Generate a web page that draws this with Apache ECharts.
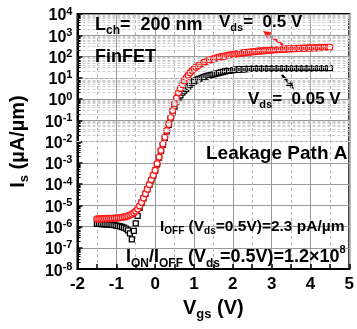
<!DOCTYPE html>
<html>
<head>
<meta charset="utf-8">
<script src="https://cdn.jsdelivr.net/npm/echarts@6/dist/echarts.min.js"></script>
<style>
  html, body { margin: 0; padding: 0; background: #fff; }
  #chart { width: 357px; height: 329px; }
</style>
</head>
<body>
<div id="chart"></div>
<script>
// Gate voltage sweep (V)
const vgs = [
  -1.5, -1.45, -1.4, -1.35, -1.3, -1.25, -1.2, -1.15, -1.1, -1.05,
  -1.0, -0.95, -0.9, -0.85, -0.8, -0.75, -0.7, -0.65, -0.6, -0.55,
  -0.5, -0.45, -0.4, -0.35, -0.3, -0.25, -0.2, -0.15, -0.1, -0.05,
  0, 0.05, 0.1, 0.15, 0.2, 0.25, 0.3, 0.35, 0.4, 0.45,
  0.5, 0.55, 0.6, 0.65, 0.7, 0.75, 0.8, 0.85, 0.9, 0.95,
  1.0, 1.05, 1.1, 1.15, 1.2, 1.25, 1.3, 1.35, 1.4, 1.45,
  1.5, 1.55, 1.6, 1.65, 1.7, 1.75, 1.8, 1.85, 1.9, 1.95,
  2.0, 2.05, 2.1, 2.15, 2.2, 2.25, 2.3, 2.35, 2.4, 2.45,
  2.5, 2.55, 2.6, 2.65, 2.7, 2.75, 2.8, 2.85, 2.9, 2.95,
  3.0, 3.05, 3.1, 3.15, 3.2, 3.25, 3.3, 3.35, 3.4, 3.45,
  3.5, 3.55, 3.6, 3.65, 3.7, 3.75, 3.8, 3.85, 3.9, 3.95,
  4.0, 4.05, 4.1, 4.15, 4.2, 4.25, 4.3, 4.35, 4.4, 4.45,
  4.5
];

// Source current (µA/µm) at Vds = 0.5 V
const isVds05 = [
  2.3e-6, 2.3e-6, 2.34e-6, 2.34e-6, 2.35e-6, 2.4e-6, 2.4e-6, 2.45e-6, 2.45e-6, 2.5e-6,
  2.51e-6, 2.57e-6, 2.63e-6, 2.69e-6, 2.82e-6, 2.95e-6, 3.16e-6, 3.47e-6, 3.8e-6, 4.37e-6,
  5.25e-6, 6.76e-6, 9.33e-6, 1.38e-5, 2.19e-5, 3.55e-5, 5.75e-5, 9.33e-5, 1.58e-4, 2.63e-4,
  4.47e-4, 9.12e-4, 1.86e-3, 3.8e-3, 7.76e-3, 1.58e-2, 3.31e-2, 6.76e-2, 0.138, 0.288,
  0.603, 1.12, 2.0, 3.16, 4.79, 7.08, 10.0, 13.2, 17.4, 21.9,
  26.3, 31.6, 36.3, 41.7, 46.8, 52.5, 57.5, 63.1, 67.6, 72.4,
  77.6, 83.2, 87.1, 93.3, 97.7, 102, 107, 112, 117, 120,
  126, 129, 135, 138, 141, 148, 151, 155, 158, 162,
  166, 170, 174, 178, 182, 186, 189, 192, 195, 200,
  203, 206, 209, 212, 215, 218, 221, 224, 226, 229,
  231, 234, 236, 238, 240, 243, 245, 247, 249, 251,
  253, 255, 257, 259, 261, 263, 265, 267, 269, 271,
  275
];

// Source current (µA/µm) at Vds = 0.05 V
const isVds005 = [
  1.35e-6, 1.35e-6, 1.32e-6, 1.32e-6, 1.29e-6, 1.29e-6, 1.26e-6, 1.25e-6, 1.2e-6, 1.17e-6,
  1.12e-6, 1.07e-6, 1.02e-6, 9.55e-7, 8.91e-7, 7.94e-7, 6.61e-7, 4.79e-7, 2.51e-7, 6.31e-7,
  1.41e-6, 3.16e-6, 7.59e-6, 1.32e-5, 2.14e-5, 3.47e-5, 5.62e-5, 9.12e-5, 1.51e-4, 2.51e-4,
  4.27e-4, 8.51e-4, 1.74e-3, 3.55e-3, 7.24e-3, 1.48e-2, 3.02e-2, 6.17e-2, 0.12, 0.234,
  0.437, 0.776, 1.12, 1.48, 2.0, 2.51, 3.02, 3.72, 4.79, 5.75,
  6.76, 7.59, 8.32, 9.12, 10.0, 10.7, 11.5, 12.3, 12.9, 13.8,
  14.5, 15.1, 16.2, 17.0, 17.8, 19.1, 20.0, 20.9, 21.4, 22.4,
  22.9, 23.4, 24.0, 24.5, 25.1, 25.2, 25.7, 25.8, 26.2, 26.3,
  26.4, 26.6, 26.7, 26.8, 26.9, 27.0, 27.0, 27.1, 27.2, 27.2,
  27.3, 27.3, 27.4, 27.4, 27.5, 27.5, 27.6, 27.6, 27.7, 27.7,
  27.8, 27.8, 27.8, 27.9, 27.9, 28.0, 28.0, 28.0, 28.1, 28.1,
  28.1, 28.2, 28.2, 28.2, 28.3, 28.3, 28.3, 28.4, 28.4, 28.4,
  28.5
];

// Axis ranges and tick exponents
const xTicks = [-2, -1, 0, 1, 2, 3, 4, 5];
const yExponents = [-8, -7, -6, -5, -4, -3, -2, -1, 0, 1, 2, 3, 4];
const logMinorSteps = [2, 3, 4, 5, 6, 7, 8, 9];

const FONT = '"Liberation Sans", Arial, sans-serif';
const RED = '#ff1a1a';
const X_MIN = xTicks[0];
const X_MAX = xTicks[xTicks.length - 1];

const pairs = (xs, ys) => xs.map((x, i) => [x, ys[i]]);

// Minor log positions (2..9 × each decade)
const minorVals = [];
yExponents.slice(0, -1).forEach(e => {
  logMinorSteps.forEach(m => minorVals.push(m * Math.pow(10, e)));
});
const minorGrid = minorVals.map(v => ({ yAxis: v }));
// Short inward minor ticks on the left axis
const minorTicks = minorVals.map(v => [{ coord: [X_MIN, v] }, { coord: [X_MIN + 0.08, v] }]);

// Simple arrow: shaft plus triangular head at (x2, y2)
function arrow(x1, y1, x2, y2, color) {
  const dx = x2 - x1, dy = y2 - y1, len = Math.hypot(dx, dy);
  const ux = dx / len, uy = dy / len, hl = 8, hw = 4;
  const bx = x2 - ux * hl, by = y2 - uy * hl;
  return {
    type: 'group',
    children: [
      { type: 'line', shape: { x1: x1, y1: y1, x2: bx, y2: by },
        style: { stroke: color, lineWidth: 2.5 } },
      { type: 'polygon',
        shape: { points: [[x2, y2], [bx - uy * hw, by + ux * hw], [bx + uy * hw, by - ux * hw]] },
        style: { fill: color } }
    ]
  };
}

const bold = (size, color, extra) => Object.assign({
  fontFamily: FONT, fontWeight: 'bold', fontSize: size, color: color
}, extra || {});

function label(x, y, text, rich) {
  return { type: 'text', x: x, y: y, z: 20, style: { text: text, rich: rich } };
}

const chart = echarts.init(document.getElementById('chart'), null, { renderer: 'canvas' });

const option = {
  animation: false,
  backgroundColor: '#fff',
  textStyle: { fontFamily: FONT, fontWeight: 'bold', color: '#000' },
  grid: {
    left: 77, right: 3, top: 14, bottom: 56,
    show: true, borderColor: '#000', borderWidth: 2, backgroundColor: 'transparent'
  },
  xAxis: {
    type: 'value', min: X_MIN, max: X_MAX, interval: 1,
    axisLine: { onZero: false, lineStyle: { color: '#000', width: 2 } },
    axisTick: { inside: true, length: 5, lineStyle: { color: '#000', width: 1.5 } },
    minorTick: { show: true, splitNumber: 2, length: 5, lineStyle: { color: '#000', width: 1.5 } },
    splitLine: { show: true, lineStyle: { color: '#9a9a9a', width: 1 } },
    minorSplitLine: { show: true, lineStyle: { color: '#b5b5b5', width: 1, type: [3, 3] } },
    axisLabel: {
      margin: 7,
      fontFamily: FONT, fontWeight: 700, fontSize: 17, color: '#000',
      formatter: v => '{t|' + v + '}',
      rich: { t: { fontFamily: FONT, fontWeight: 700, fontSize: 17, color: '#000' } }
    },
    name: '{b|V}{s|gs}{b| (V)}',
    nameLocation: 'middle', nameGap: 26,
    nameTextStyle: {
      rich: {
        b: bold(20, '#000', { lineHeight: 20, padding: [0, 0, 6, 0] }),
        s: bold(13, '#000', { lineHeight: 12, verticalAlign: 'bottom' })
      }
    }
  },
  yAxis: {
    type: 'log', logBase: 10, min: 1e-8, max: 1e4, interval: 1,
    axisLine: { onZero: false, lineStyle: { color: '#000', width: 2 } },
    axisTick: { inside: true, length: 5, lineStyle: { color: '#000', width: 1.5 } },
    splitLine: { show: true, lineStyle: { color: '#9a9a9a', width: 1 } },
    axisLabel: {
      margin: 5,
      formatter: v => '{b|10}{e|' + Math.round(Math.log10(v)) + '}',
      rich: {
        b: bold(16, '#000', { lineHeight: 16, padding: [4, 0, 0, 0] }),
        e: bold(11, '#000', { lineHeight: 11, verticalAlign: 'top' })
      }
    },
    name: '{b|I}{s|s}{b| (µA/µm)}',
    nameLocation: 'middle', nameGap: 39, nameRotate: 90,
    nameTextStyle: {
      rich: {
        b: bold(20, '#000', { lineHeight: 20, padding: [0, 0, 6, 0] }),
        s: bold(13, '#000', { lineHeight: 12, verticalAlign: 'bottom' })
      }
    }
  },
  series: [
    {
      name: 'minor-grid', type: 'line', data: [], z: 1, silent: true,
      markLine: {
        silent: true, symbol: 'none', label: { show: false },
        lineStyle: { color: '#cdcdcd', width: 1, type: [3, 2] },
        data: minorGrid
      }
    },
    {
      name: 'minor-ticks', type: 'line', data: [], z: 5, silent: true,
      markLine: {
        silent: true, symbol: 'none', label: { show: false },
        lineStyle: { color: '#000', width: 1, type: 'solid' },
        data: minorTicks
      }
    },
    {
      name: 'Vds = 0.05 V', type: 'line', data: pairs(vgs, isVds005), z: 3,
      symbol: 'rect', symbolSize: 5,
      lineStyle: { width: 0 },
      itemStyle: { color: '#fff', borderColor: '#000', borderWidth: 1.3 }
    },
    {
      name: 'Vds = 0.5 V', type: 'line', data: pairs(vgs, isVds05), z: 4,
      symbol: 'circle', symbolSize: 6,
      lineStyle: { width: 0 },
      itemStyle: { color: '#fff', borderColor: RED, borderWidth: 1.3 }
    }
  ],
  graphic: [
    label(95, 19, '{m|L}{s|ch}{m|=  200 nm}', {
      m: bold(18, '#000', { lineHeight: 18, padding: [0, 0, 5, 0] }),
      s: bold(12, '#000', { lineHeight: 12, verticalAlign: 'bottom' })
    }),
    label(95, 48, '{m|FinFET}', { m: bold(18, '#000') }),
    label(219, 16, '{m|V}{s|ds}{m|=  0.5 V}', {
      m: bold(17, RED, { lineHeight: 17, padding: [0, 0, 5, 0] }),
      s: bold(11, RED, { lineHeight: 11, verticalAlign: 'bottom' })
    }),
    arrow(283, 45, 263, 31, RED),
    arrow(282, 75, 294, 89, '#000'),
    label(248, 93, '{m|V}{s|ds}{m|=  0.05 V}', {
      m: bold(17, '#000', { lineHeight: 17, padding: [0, 0, 5, 0] }),
      s: bold(11, '#000', { lineHeight: 11, verticalAlign: 'bottom' })
    }),
    label(206, 144, '{m|Leakage Path A}', { m: bold(19, '#000') }),
    label(160, 221, '{m|I}{s|OFF}{m| (V}{s|ds}{m|=0.5V)=2.3 pA/µm}', {
      m: bold(15.5, RED, { lineHeight: 15, padding: [0, 0, 4, 0] }),
      s: bold(10, RED, { lineHeight: 10, verticalAlign: 'bottom' })
    }),
    label(126, 244, '{p|}{m|I}{s|ON}{m|/I}{s|OFF}{m| (V}{s|ds}{m|=0.5V)=1.2×10}{e|8}', {
      p: { lineHeight: 26, width: 0 },
      m: bold(18, RED, { lineHeight: 18, verticalAlign: 'middle' }),
      s: bold(12, RED, { lineHeight: 12, verticalAlign: 'bottom' }),
      e: bold(11, RED, { lineHeight: 11, verticalAlign: 'top' })
    })
  ]
};

chart.setOption(option);
</script>
</body>
</html>
